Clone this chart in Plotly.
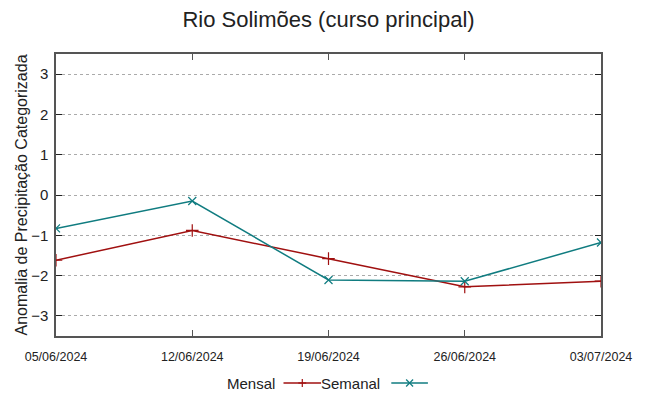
import plotly.graph_objects as go

datas = ["05/06/2024", "12/06/2024", "19/06/2024", "26/06/2024", "03/07/2024"]
mensal = [-1.62, -0.88, -1.58, -2.28, -2.14]
semanal = [-0.83, -0.15, -2.11, -2.14, -1.18]
y_ticks = [-3, -2, -1, 0, 1, 2, 3]

RED = "#a01010"
TEAL = "#107c80"

OFF = 8  # default page body margin
W, H = 649 - OFF, 396 - OFF
L, R, T, B = 50 - OFF, 48, 54 - OFF, 60
PW, PH = W - L - R, H - T - B

fig = go.Figure()
fig.add_trace(go.Scatter(x=datas, y=mensal, mode="lines+markers", name="Mensal",
                         line=dict(color=RED, width=1.5),
                         marker=dict(symbol="cross-thin", size=9, line=dict(color=RED, width=1.2))))
fig.add_trace(go.Scatter(x=datas, y=semanal, mode="lines+markers", name="Semanal",
                         line=dict(color=TEAL, width=1.5),
                         marker=dict(symbol="x-thin", size=8, line=dict(color=TEAL, width=1.2))))

def px2paper(px, py):
    # page pixel coordinates -> paper coordinates
    return (px - OFF - L) / PW, (H - B - (py - OFF)) / PH

shapes = []
annotations = []
leg_y = 383
for name, color, tx, lx0, lx1, sym in [("Mensal", RED, 273, 280, 318, "+"),
                                        ("Semanal", TEAL, 380, 389, 426, "x")]:
    ax, ay = px2paper(tx, leg_y)
    annotations.append(dict(x=ax, y=ay, xref="paper", yref="paper", text=name, showarrow=False,
                            xanchor="right", yanchor="middle",
                            font=dict(family="Liberation Sans", size=15, color="#222")))
    x0, y0 = px2paper(lx0, leg_y)
    x1, _ = px2paper(lx1, leg_y)
    shapes.append(dict(type="line", xref="paper", yref="paper", x0=x0, x1=x1, y0=y0, y1=y0,
                       line=dict(color=color, width=1.5)))
    cx = (lx0 + lx1) / 2
    if sym == "+":
        segs = [((cx - 4, leg_y), (cx + 4, leg_y)), ((cx, leg_y - 4), (cx, leg_y + 4))]
    else:
        segs = [((cx - 3.5, leg_y - 3.5), (cx + 3.5, leg_y + 3.5)), ((cx - 3.5, leg_y + 3.5), (cx + 3.5, leg_y - 3.5))]
    for (a, b) in segs:
        p0 = px2paper(*a)
        p1 = px2paper(*b)
        shapes.append(dict(type="line", xref="paper", yref="paper", x0=p0[0], y0=p0[1], x1=p1[0], y1=p1[1],
                           line=dict(color=color, width=1.2)))

fig.update_layout(
    width=W, height=H,
    margin=dict(l=L, r=R, t=T, b=B),
    paper_bgcolor="white", plot_bgcolor="white",
    showlegend=False,
    font=dict(family="Liberation Sans", color="#222"),
    title=dict(text="Rio Solimões (curso principal)", x=0.5, xanchor="center", y=1 - (19 - OFF) / H,
               yanchor="middle",
               font=dict(family="Liberation Sans", size=22, color="#222")),
    xaxis=dict(type="category", range=[0, 4], showline=True, linecolor="#555", linewidth=1.5,
               mirror="ticks", ticks="inside", ticklen=6, tickcolor="#555", showgrid=False,
               zeroline=False, tickfont=dict(family="Liberation Sans", size=12.5, color="#222"),
               ticklabelstandoff=8),
    yaxis=dict(range=[-3.5, 3.5], tickvals=y_ticks, showline=True, linecolor="#555", linewidth=1.5,
               mirror="ticks", ticks="inside", ticklen=6, tickcolor="#222", showgrid=True,
               gridcolor="#aaa", griddash="dot", gridwidth=1, zeroline=False,
               tickfont=dict(family="Liberation Sans", size=15, color="#222"),
               ticklabelstandoff=3,
               title=dict(text="Anomalia de Precipitação Categorizada", standoff=0,
                          font=dict(family="Liberation Sans", size=16, color="#222"))),
    shapes=shapes, annotations=annotations,
)

fig.write_html("out.html")
